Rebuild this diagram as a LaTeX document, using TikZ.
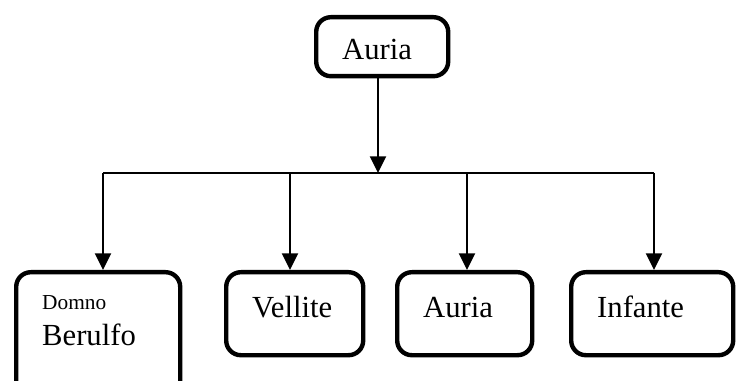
\documentclass[tikz,border=0pt]{standalone}
\usepackage{fontspec}
\setmainfont{Liberation Serif}
\usetikzlibrary{arrows.meta, positioning}

\begin{document}
\begin{tikzpicture}[
  x=0.75pt, y=-0.75pt,
  box/.style={draw, line width=3.3pt, rounded corners=11pt, anchor=north west,
    inner xsep=19.5pt, inner ysep=0pt, align=flush left,
    font=\fontsize{23pt}{27pt}\selectfont},
  arr/.style={-{Triangle[length=12.5pt, width=12pt]}, line width=1.5pt},
  bar/.style={line width=1.1pt}
]
\useasboundingbox (0,0) rectangle (743,381);
\clip (0,0) rectangle (743,381);

\node[box, text width=60pt, minimum height=44.25pt, text height=18.75pt, text depth=0pt] (root) at (314,15) {Auria};

\node[box, text width=84pt, minimum height=93.75pt, text height=11.25pt, text depth=49.5pt] (berulfo) at (14,270)
  {{\fontsize{16pt}{19pt}\selectfont Domno}\\Berulfo};
\node[box, text width=63.75pt, minimum height=62.25pt, text height=15pt, text depth=9.75pt] (vellite) at (224,270) {Vellite};
\node[box, text width=62.25pt, minimum height=62.25pt, text height=15pt, text depth=9.75pt] (auria) at (395,270) {Auria};
\node[box, text width=82.5pt, minimum height=62.25pt, text height=15pt, text depth=9.75pt] (infante) at (569,270) {Infante};

\coordinate (hub) at (378,173);
\coordinate (j1) at (103,173);
\coordinate (j2) at (290,173);
\coordinate (j3) at (467,173);
\coordinate (j4) at (654,173);

\draw[arr] (root.south -| hub) -- (hub);
\draw[bar] (j1) -- (j4);
\draw[arr] (j1) -- (j1 |- berulfo.north);
\draw[arr] (j2) -- (j2 |- vellite.north);
\draw[arr] (j3) -- (j3 |- auria.north);
\draw[arr] (j4) -- (j4 |- infante.north);
\end{tikzpicture}
\end{document}
